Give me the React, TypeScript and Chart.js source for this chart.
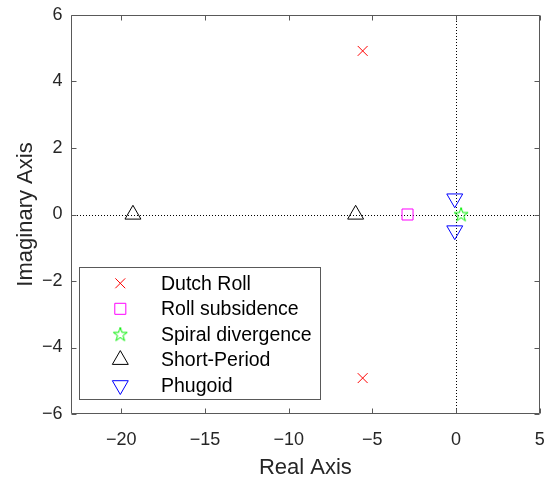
import React, { useEffect, useRef } from "react";
import { Chart, registerables } from "chart.js";
import * as helpers from "chart.js/helpers";

Chart.register(...registerables);

// ---- data (real, imaginary parts of the poles) ----
const seriesLabels = ["Dutch Roll", "Roll subsidence", "Spiral divergence", "Short-Period", "Phugoid"];
const seriesColors = ["#ff0000", "#ff00ff", "#00ee00", "#000000", "#0000ff"];
const dutchRollRe = [-5.58, -5.58];
const dutchRollIm = [4.92, -4.92];
const rollSubsidenceRe = [-2.9];
const rollSubsidenceIm = [0];
const spiralRe = [0.3];
const spiralIm = [0];
const shortPeriodRe = [-19.3, -6.0];
const shortPeriodIm = [0, 0];
const phugoidRe = [-0.08, -0.08];
const phugoidIm = [0.48, -0.48];

const xTickValues = [-20, -15, -10, -5, 0, 5];
const yTickValues = [-6, -4, -2, 0, 2, 4, 6];
const xMin = -23;
const xMax = 5;
const yMin = -6;
const yMax = 6;

const FONT = "'Liberation Sans', Arial, Helvetica, sans-serif";
const AXIS_COLOR = "#262626";

const pts = (re: number[], im: number[]) => re.map((x, i) => ({ x, y: im[i] }));
const minusify = (v: number) => String(v).replace("-", "\u2212");

function makeStar(color: string): HTMLCanvasElement {
  const c = document.createElement("canvas");
  c.width = 18;
  c.height = 18;
  const g = c.getContext("2d")!;
  const cx = 9, cy = 9.4, R = 7.4, r = R * 0.382;
  g.beginPath();
  for (let i = 0; i < 10; i++) {
    const rad = i % 2 === 0 ? R : r;
    const a = -Math.PI / 2 + (i * Math.PI) / 5;
    const px = cx + rad * Math.cos(a);
    const py = cy + rad * Math.sin(a);
    if (i === 0) g.moveTo(px, py);
    else g.lineTo(px, py);
  }
  g.closePath();
  g.strokeStyle = color;
  g.lineWidth = 1;
  g.stroke();
  return c;
}

const zeroPad = (s: any) => {
  s.paddingLeft = 0;
  s.paddingRight = 0;
  s.paddingTop = 0;
  s.paddingBottom = 0;
};

export default function App() {
  const ref = useRef<HTMLCanvasElement | null>(null);

  useEffect(() => {
    document.body.style.margin = "0";
    const star = makeStar(seriesColors[2]);

    const frame = {
      id: "frame",
      beforeDatasetsDraw(chart: any) {
        const { ctx, chartArea: a, scales } = chart;
        const xs = scales.x, ys = scales.y;
        ctx.save();
        // dotted zero lines
        ctx.strokeStyle = "#000";
        ctx.lineWidth = 1;
        ctx.setLineDash([1, 2]);
        const x0 = Math.round(xs.getPixelForValue(0)) + 0.5;
        const y0 = Math.round(ys.getPixelForValue(0)) + 0.5;
        ctx.beginPath();
        ctx.moveTo(a.left, y0);
        ctx.lineTo(a.right, y0);
        ctx.moveTo(x0, a.top);
        ctx.lineTo(x0, a.bottom);
        ctx.stroke();
        ctx.setLineDash([]);
        // box
        const L = Math.round(a.left) + 0.5, R = Math.round(a.right) - 0.5;
        const T = Math.round(a.top) + 0.5, B = Math.round(a.bottom) - 0.5;
        ctx.strokeStyle = "#595959";
        ctx.beginPath();
        ctx.rect(L, T, R - L, B - T);
        // inward ticks
        const tl = 5;
        xTickValues.forEach((v) => {
          const p = Math.round(xs.getPixelForValue(v)) + 0.5;
          ctx.moveTo(p, B);
          ctx.lineTo(p, B - tl);
          ctx.moveTo(p, T);
          ctx.lineTo(p, T + tl);
        });
        yTickValues.forEach((v) => {
          const p = Math.round(ys.getPixelForValue(v)) + 0.5;
          ctx.moveTo(L, p);
          ctx.lineTo(L + tl, p);
          ctx.moveTo(R, p);
          ctx.lineTo(R - tl, p);
        });
        ctx.stroke();
        ctx.restore();
      },
      afterDraw(chart: any) {
        const { ctx } = chart;
        ctx.save();
        const bx = 79.5, by = 267.5, bw = 241, bh = 132;
        ctx.fillStyle = "#fff";
        ctx.fillRect(bx, by, bw, bh);
        ctx.strokeStyle = "#595959";
        ctx.lineWidth = 1;
        ctx.strokeRect(bx, by, bw, bh);
        const rowTop = 283.3, rowStep = 25.5;
        chart.data.datasets.forEach((ds: any, i: number) => {
          const y = rowTop + i * rowStep;
          ctx.save();
          ctx.strokeStyle = seriesColors[i];
          ctx.fillStyle = "rgba(255,255,255,0)";
          ctx.lineWidth = 1;
          helpers.drawPoint(
            ctx,
            {
              pointStyle: ds.pointStyle,
              rotation: ds.pointRotation || 0,
              radius: ds.pointRadius,
              borderWidth: 1,
            } as any,
            120.3,
            y
          );
          ctx.restore();
          ctx.fillStyle = "#000";
          ctx.font = `19.5px ${FONT}`;
          ctx.textAlign = "left";
          ctx.textBaseline = "middle";
          ctx.fillText(ds.label, 161, y + 1.2);
        });
        ctx.restore();
      },
    };

    const common = {
      showLine: false,
      pointBackgroundColor: "rgba(255,255,255,0)",
      pointBorderWidth: 1,
    };

    const chart = new Chart(ref.current!, {
      type: "scatter",
      data: {
        datasets: [
          { ...common, label: seriesLabels[0], data: pts(dutchRollRe, dutchRollIm), pointStyle: "crossRot", pointRadius: 7, pointBorderColor: seriesColors[0] },
          { ...common, label: seriesLabels[1], data: pts(rollSubsidenceRe, rollSubsidenceIm), pointStyle: "rect", pointRadius: 7.8, pointBorderColor: seriesColors[1] },
          { ...common, label: seriesLabels[2], data: pts(spiralRe, spiralIm), pointStyle: star as any, pointRadius: 8, pointBorderColor: seriesColors[2] },
          { ...common, label: seriesLabels[3], data: pts(shortPeriodRe, shortPeriodIm), pointStyle: "triangle", pointRadius: 9.2, pointBorderColor: seriesColors[3] },
          { ...common, label: seriesLabels[4], data: pts(phugoidRe, phugoidIm), pointStyle: "triangle", pointRotation: 180, pointRadius: 9.2, pointBorderColor: seriesColors[4] },
        ] as any,
      },
      options: {
        animation: false,
        responsive: false,
        maintainAspectRatio: false,
        layout: { padding: { left: 0, right: 10, top: 15, bottom: 0 } },
        plugins: { legend: { display: false }, tooltip: { enabled: false } },
        scales: {
          x: {
            type: "linear",
            min: xMin,
            max: xMax,
            afterBuildTicks: (s: any) => {
              s.ticks = xTickValues.map((value) => ({ value }));
            },
            afterFit: (s: any) => {
              s.height = 65;
              zeroPad(s);
            },
            grid: { display: false, drawTicks: false },
            border: { display: false },
            ticks: {
              color: AXIS_COLOR,
              font: { family: FONT, size: 18 },
              padding: 15.5,
              maxRotation: 0,
              callback: (v: any) => minusify(v),
            },
            title: {
              display: true,
              text: "Real Axis",
              color: AXIS_COLOR,
              font: { family: FONT, size: 22, lineHeight: 1.0 },
              padding: { top: 0, bottom: 0 },
            },
          },
          y: {
            type: "linear",
            min: yMin,
            max: yMax,
            afterBuildTicks: (s: any) => {
              s.ticks = yTickValues.map((value) => ({ value }));
            },
            afterFit: (s: any) => {
              s.width = 71;
              zeroPad(s);
            },
            grid: { display: false, drawTicks: false },
            border: { display: false },
            ticks: {
              color: AXIS_COLOR,
              font: { family: FONT, size: 18 },
              padding: 8.5,
              callback: (v: any) => minusify(v),
            },
            title: {
              display: true,
              text: "Imaginary Axis",
              color: AXIS_COLOR,
              font: { family: FONT, size: 22 },
              padding: { top: 13, bottom: 0 },
            },
          },
        },
      },
      plugins: [frame],
    });
    return () => chart.destroy();
  }, []);

  return (
    <div style={{ position: "absolute", left: 0, top: 0, width: 550, height: 479 }}>
      <canvas ref={ref} width={550} height={479} style={{ width: 550, height: 479, display: "block" }} />
    </div>
  );
}
